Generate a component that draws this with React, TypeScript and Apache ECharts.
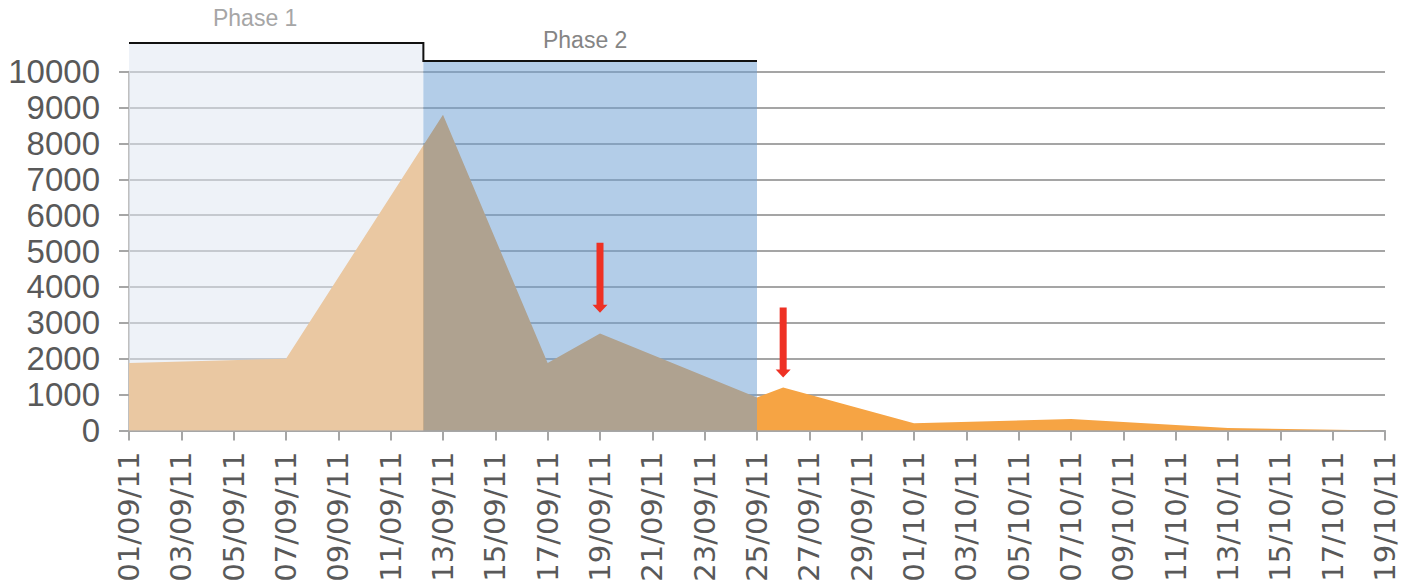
import React, { useEffect, useRef } from "react";
import * as echarts from "echarts";

// Daily counts, sampled at the dates where the curve changes slope
const pointDates = [
  "01/09/11", "07/09/11", "13/09/11", "17/09/11", "19/09/11", "25/09/11",
  "26/09/11", "01/10/11", "07/10/11", "13/10/11", "19/10/11",
];
const pointValues = [1880, 2000, 8800, 1880, 2700, 920, 1200, 200, 320, 70, 0];

// Tick labels along the date axis (every second day)
const tickLabels = [
  "01/09/11", "03/09/11", "05/09/11", "07/09/11", "09/09/11", "11/09/11",
  "13/09/11", "15/09/11", "17/09/11", "19/09/11", "21/09/11", "23/09/11",
  "25/09/11", "27/09/11", "29/09/11", "01/10/11", "03/10/11", "05/10/11",
  "07/10/11", "09/10/11", "11/10/11", "13/10/11", "15/10/11", "17/10/11",
  "19/10/11",
];

// Phases: names, extents in days since 01/09/11, and the height of each bracket
const phaseNames = ["Phase 1", "Phase 2"];
const phaseStartDays = [0, 11.25];
const phaseEndDays = [11.25, 24];
const phaseTops = [10800, 10300];

// Arrows marking the two secondary peaks
const arrowDates = ["19/09/11", "26/09/11"];
const arrowTops = [5230, 3430];
const arrowTips = [3280, 1480];

const yTicks = { min: 0, max: 10000, interval: 1000 };

const START = Date.UTC(2011, 8, 1);
function dayOffset(s: string): number {
  const [d, m, y] = s.split("/").map(Number);
  return (Date.UTC(2000 + y, m - 1, d) - START) / 86400000;
}

const PHASE_FILLS = ["rgba(224,231,242,0.54)", "rgba(111,160,211,0.53)"];
const PHASE_TEXT = ["#A6A6A6", "#858585"];
const PHASE_LABEL_SHIFT = [
  { dx: -21, dy: -24.5 },
  { dx: -5, dy: -21 },
];

export default function App() {
  const ref = useRef<HTMLDivElement | null>(null);

  useEffect(() => {
    document.body.style.margin = "0";
    if (!ref.current) return;
    const chart = echarts.init(ref.current, null, { renderer: "svg" });

    const areaData = pointDates.map((d, i) => [dayOffset(d), pointValues[i]]);
    const phaseData = phaseNames.map((_, i) => [
      phaseStartDays[i],
      phaseEndDays[i],
      phaseTops[i],
      i,
    ]);
    const arrowData = arrowDates.map((d, i) => [
      dayOffset(d),
      arrowTops[i],
      arrowTips[i],
    ]);

    const option: any = {
      animation: false,
      textStyle: { fontFamily: "Liberation Sans, Arial, sans-serif" },
      grid: {
        left: 129,
        right: 31,
        top: 71.7,
        bottom: 154.5,
        containLabel: false,
        outerBoundsMode: "none",
      },
      xAxis: {
        type: "value",
        min: 0,
        max: 48,
        interval: 2,
        splitLine: { show: false },
        axisLine: { show: true, lineStyle: { color: "#A6A6A6", width: 2 } },
        axisTick: { show: true, length: 10, lineStyle: { color: "#A6A6A6", width: 2 } },
        axisLabel: {
          rotate: 90,
          margin: 21,
          fontFamily: "DejaVu Sans",
          fontSize: 29,
          color: "#595959",
          formatter: (v: number) => tickLabels[Math.round(v / 2)] ?? "",
        },
      },
      yAxis: {
        type: "value",
        min: yTicks.min,
        max: yTicks.max,
        interval: yTicks.interval,
        axisLine: { show: true, lineStyle: { color: "#BFBFBF", width: 2 } },
        axisTick: { show: true, length: 10, lineStyle: { color: "#A6A6A6", width: 2 } },
        splitLine: { show: true, lineStyle: { color: "#A5A5A5", width: 2 } },
        axisLabel: {
          margin: 29,
          fontFamily: "Liberation Sans",
          fontSize: 33,
          color: "#595959",
          formatter: (v: number) => String(v),
        },
      },
      series: [
        {
          type: "line",
          data: areaData,
          showSymbol: false,
          symbol: "none",
          lineStyle: { width: 0, color: "#F6A444" },
          itemStyle: { color: "#F6A444" },
          areaStyle: { color: "#F6A444", opacity: 1 },
          z: 2,
        },
        {
          // translucent phase boxes laid over the data
          type: "custom",
          coordinateSystem: "cartesian2d",
          clip: false,
          silent: true,
          z: 5,
          encode: { x: [0, 1], y: 2 },
          data: phaseData,
          renderItem: (params: any, api: any) => {
            const idx = api.value(3);
            const p0 = api.coord([api.value(0), 0]);
            const p1 = api.coord([api.value(1), api.value(2)]);
            const shift = PHASE_LABEL_SHIFT[idx];
            return {
              type: "group",
              children: [
                {
                  type: "rect",
                  shape: { x: p0[0], y: p1[1], width: p1[0] - p0[0], height: p0[1] - p1[1] },
                  style: { fill: PHASE_FILLS[idx] },
                },
                {
                  type: "text",
                  x: (p0[0] + p1[0]) / 2 + shift.dx,
                  y: p1[1] + shift.dy,
                  style: {
                    text: phaseNames[idx],
                    fill: PHASE_TEXT[idx],
                    font: "23px 'Liberation Sans', Arial, sans-serif",
                    align: "center",
                    verticalAlign: "middle",
                  },
                },
              ],
            };
          },
        },
        {
          // stepped bracket over the phases
          type: "custom",
          coordinateSystem: "cartesian2d",
          clip: false,
          silent: true,
          z: 6,
          data: [[0, 0]],
          renderItem: (params: any, api: any) => {
            const pts: number[][] = [];
            phaseNames.forEach((_, i) => {
              pts.push(api.coord([phaseStartDays[i], phaseTops[i]]));
              pts.push(api.coord([phaseEndDays[i], phaseTops[i]]));
            });
            return {
              type: "polyline",
              shape: { points: pts },
              style: { stroke: "#111111", lineWidth: 2, fill: "none" },
            };
          },
        },
        {
          // red down arrows
          type: "custom",
          coordinateSystem: "cartesian2d",
          clip: false,
          silent: true,
          z: 7,
          encode: { x: 0, y: [1, 2] },
          data: arrowData,
          renderItem: (params: any, api: any) => {
            const top = api.coord([api.value(0), api.value(1)]);
            const tip = api.coord([api.value(0), api.value(2)]);
            const x = top[0];
            const sw = 3.5;
            const hw = 7.5;
            const hh = 8;
            return {
              type: "polygon",
              shape: {
                points: [
                  [x - sw, top[1]],
                  [x + sw, top[1]],
                  [x + sw, tip[1] - hh],
                  [x + hw, tip[1] - hh],
                  [x, tip[1]],
                  [x - hw, tip[1] - hh],
                  [x - sw, tip[1] - hh],
                ],
              },
              style: { fill: "#EE3124" },
            };
          },
        },
      ],
    };

    chart.setOption(option);
    return () => chart.dispose();
  }, []);

  return <div ref={ref} style={{ width: 1416, height: 585 }} />;
}
